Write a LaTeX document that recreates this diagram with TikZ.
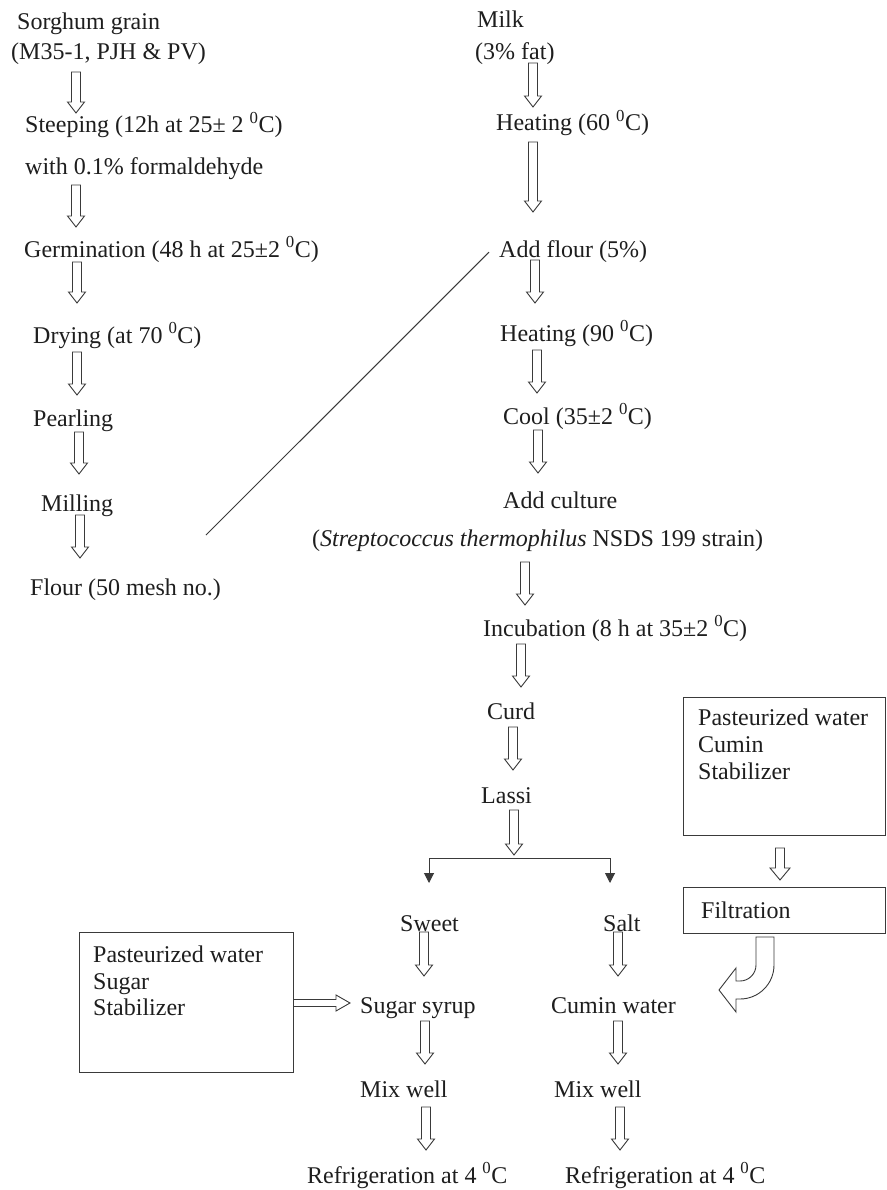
\documentclass[tikz,border=0pt]{standalone}
\usepackage{fontspec}
\setmainfont{Liberation Serif}
\usetikzlibrary{arrows.meta}
\definecolor{ink}{HTML}{1E1E1E}
\definecolor{lin}{HTML}{3A3A3A}
\newcommand\dgc{\textsuperscript{0}C}
% hollow down arrow: x, y-top, y-tip
\newcommand\hdown[3]{\draw[harr] ({#1-4.5},#2) -- ({#1+4.5},#2) -- ({#1+4.5},{#3-11}) -- ({#1+8.5},{#3-11}) -- (#1,#3) -- ({#1-8.5},{#3-11}) -- ({#1-4.5},{#3-11}) -- cycle;}
\begin{document}
\begin{tikzpicture}[x=1pt,y=-1pt,
  txt/.style={anchor=base west, inner sep=0pt, font=\fontsize{24}{26}\selectfont, text=ink},
  harr/.style={draw=lin, line width=0.9pt, fill=white, line join=miter},
  plain/.style={draw=lin, line width=1pt},
  frame/.style={draw=lin, line width=1pt, fill=none}]
\useasboundingbox[fill=white] (0,0) rectangle (886,1190);

% ---------- left column ----------
\node[txt] (sg)    at (17,30)  {Sorghum grain};
\node[txt] (sgv)   at (11,60)  {(M35-1, PJH \& PV)};
\node[txt] (steep) at (25,133) {Steeping (12h at 25{\char"00B1} 2 \dgc)};
\node[txt] (form)  at (25,175) {with 0.1\% formaldehyde};
\node[txt] (germ)  at (24,257) {Germination (48 h at 25{\char"00B1}2 \dgc)};
\node[txt] (dry)   at (33,343) {Drying (at 70 \dgc)};
\node[txt] (pearl) at (33,426) {Pearling};
\node[txt] (mill)  at (41,511) {Milling};
\node[txt] (flour) at (30,595) {Flour (50 mesh no.)};
\hdown{76}{72}{113}
\hdown{76}{185}{227}
\hdown{77}{262}{303}
\hdown{77}{352}{395}
\hdown{79}{432}{474}
\hdown{80}{515}{558}

% ---------- right column ----------
\node[txt] (milk)     at (477,28)  {Milk};
\node[txt] (fat)      at (475,60)  {(3\% fat)};
\node[txt] (heat60)   at (496,131) {Heating (60 \dgc)};
\node[txt] (addflour) at (499,258) {Add flour (5\%)};
\node[txt] (heat90)   at (500,341) {Heating (90 \dgc)};
\node[txt] (cool)     at (503,424) {Cool (35{\char"00B1}2 \dgc)};
\node[txt] (culture)  at (503,508) {Add culture};
\node[txt] (strain)   at (312,546) {(\textit{Streptococcus thermophilus} NSDS 199 strain)};
\node[txt] (incub)    at (483,636) {Incubation (8 h at 35{\char"00B1}2 \dgc)};
\node[txt] (curd)     at (487,719) {Curd};
\node[txt] (lassi)    at (481,803) {Lassi};
\hdown{533}{63}{107}
\hdown{533}{142}{212}
\hdown{535}{260}{303}
\hdown{537}{350}{393}
\hdown{538}{430}{473}
\hdown{525}{562}{605}
\hdown{521}{644}{687}
\hdown{513}{727}{770}
\hdown{514}{810}{855}

% flour joins the milk line
\coordinate (flend) at (206,535);
\draw[plain] (flend) -- ([xshift=-10pt]addflour.west);

% ---------- branch ----------
\coordinate (brL) at (429,883);
\coordinate (brR) at (610,883);
\draw[plain, {Triangle[length=10pt,width=10pt]}-{Triangle[length=10pt,width=10pt]}]
  (brL) -- (429,858) -- (610,858) -- (brR);

\node[txt] (sweet) at (400,931)  {Sweet};
\node[txt] (salt)  at (603,931)  {Salt};
\node[txt] (syrup) at (360,1013) {Sugar syrup};
\node[txt] (cumw)  at (551,1013) {Cumin water};
\node[txt] (mixl)  at (360,1097) {Mix well};
\node[txt] (mixr)  at (554,1097) {Mix well};
\node[txt] (refl)  at (307,1183) {Refrigeration at 4 \dgc};
\node[txt] (refr)  at (565,1183) {Refrigeration at 4 \dgc};
\hdown{424}{932}{976}
\hdown{618}{932}{976}
\hdown{425}{1021}{1064}
\hdown{618}{1021}{1064}
\hdown{426}{1107}{1150}
\hdown{620}{1107}{1150}

% ---------- sugar box ----------
\node[frame, anchor=north west, minimum width=214pt, minimum height=140pt, inner sep=0pt] (sbox) at (79,932) {};
\node[txt] (s1) at (93,962)  {Pasteurized water};
\node[txt] (s2) at (93,989)  {Sugar};
\node[txt] (s3) at (93,1015) {Stabilizer};
\draw[harr] (sbox.east |- 0,999.5) -- (336,999.5) -- (336,995) -- (350,1003) -- (336,1011) -- (336,1006.5) -- (sbox.east |- 0,1006.5);

% ---------- cumin box ----------
\node[frame, anchor=north west, minimum width=202pt, minimum height=138pt, inner sep=0pt] (cbox) at (683,697) {};
\node[txt] (c1) at (698,725) {Pasteurized water};
\node[txt] (c2) at (698,752) {Cumin};
\node[txt] (c3) at (698,779) {Stabilizer};
\draw[harr] (775.5,848) -- (784.5,848) -- (784.5,868) -- (790,868) -- (780,880) -- (770,868) -- (775.5,868) -- cycle;
\node[frame, anchor=north west, minimum width=202pt, minimum height=46pt, inner sep=0pt] (fbox) at (683,887) {};
\node[txt] (filt) at (701,918) {Filtration};

% curved block arrow from filtration to cumin water
\draw[harr] (774,937) -- (774,965) .. controls (774,983.8) and (758.8,999) .. (740,999)
  -- (736,999) -- (736,1012) -- (719,990) -- (736,968) -- (736,981) -- (740,981)
  .. controls (748.8,981) and (756,973.8) .. (756,965) -- (756,937) -- cycle;
\end{tikzpicture}
\end{document}
